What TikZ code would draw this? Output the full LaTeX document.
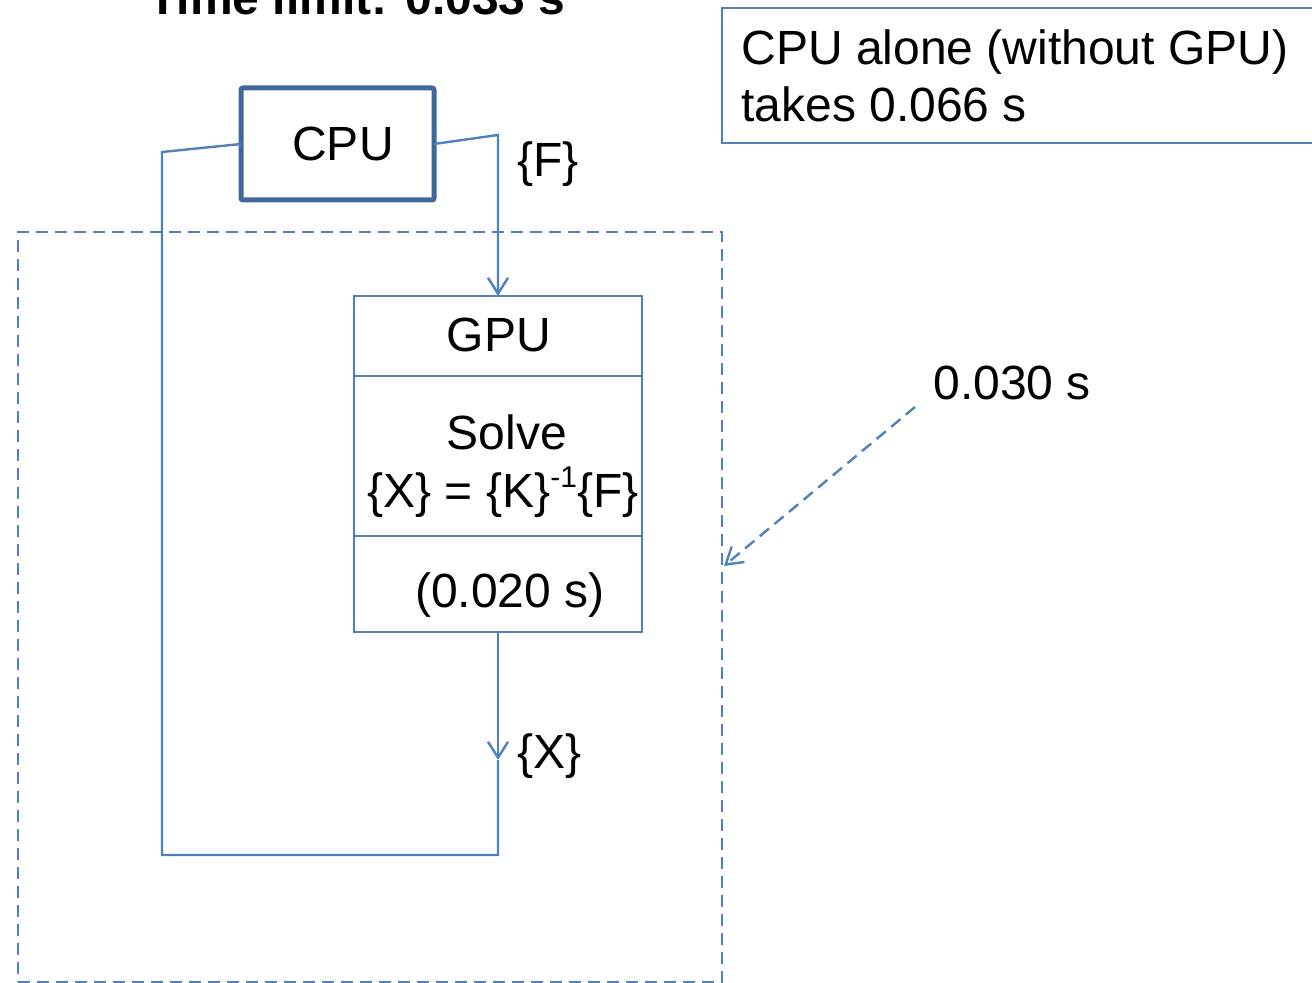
\documentclass[tikz,border=0pt]{standalone}
\usepackage{fontspec}
\setmainfont{Liberation Sans}
\usetikzlibrary{arrows.meta}
\definecolor{officeblue}{HTML}{4F81BD}
\definecolor{darkblue}{HTML}{41689B}
\tikzset{
  lbl/.style={font=\fontsize{24}{28.5}\selectfont, inner sep=0pt, text=black},
  thinbox/.style={draw=officeblue, line width=1.2pt, inner sep=0pt, outer sep=0pt},
  cpubox/.style={draw=darkblue, line width=2.5pt, rounded corners=1pt, inner sep=0pt, outer sep=0pt},
  conn/.style={draw=officeblue, line width=1.2pt},
  tip/.style={-{Straight Barb[length=8pt,width=10pt,line width=1.2pt]}},
  dashline/.style={draw=officeblue, line width=1.2pt, dash pattern=on 6pt off 3.5pt}
}
\begin{document}
\begin{tikzpicture}[x=0.5pt,y=-0.5pt]
\useasboundingbox (0,0) rectangle (1312,983);
\clip (0,0) rectangle (1312,983);

% title
\node[lbl, font=\fontsize{24}{28.5}\selectfont\bfseries, anchor=base] (title) at (357,15) {Time limit: 0.033 s};

% dashed region
\node[dashline, draw, anchor=north west, minimum width=352pt, minimum height=375pt, inner sep=0pt, outer sep=0pt] (region) at (18,232) {};

% CPU box
\node[cpubox, anchor=north west, minimum width=96.5pt, minimum height=56pt] (cpu) at (241,88) {};
\node[lbl, anchor=base] (cputxt) at (343,161) {CPU};

% GPU boxes
\node[thinbox, anchor=north west, minimum width=144pt, minimum height=40pt] (gpu) at (354,296) {};
\node[thinbox, anchor=north west, minimum width=144pt, minimum height=80pt] (solve) at (354,376) {};
\node[thinbox, anchor=north west, minimum width=144pt, minimum height=48pt] (time) at (354,536) {};
\node[lbl, anchor=base] (gputxt) at (499,352) {GPU};
\node[lbl, anchor=base] (solvetxt) at (507,450) {Solve};
\node[lbl, anchor=base] (eqtxt) at (503,508) {\{X\} = \{K\}\raisebox{0.42em}{\fontsize{15}{15}\selectfont -1}\{F\}};
\node[lbl, anchor=base] (timetxt) at (510,608) {(0.020 s)};

% labels
\node[lbl, anchor=base west] (flbl) at (517,177) {\{F\}};
\node[lbl, anchor=base west] (xlbl) at (517,768) {\{X\}};
\node[lbl, anchor=base west] (t030) at (933,400) {0.030 s};

% info box
\node[thinbox, anchor=north west, minimum width=300pt, minimum height=67.5pt] (info) at (722,8) {};
\node[lbl, anchor=base west] (info1) at (741,65) {CPU alone (without GPU)};
\node[lbl, anchor=base west] (info2) at (741,122) {takes 0.066 s};

% connectors
\coordinate (fbend) at (498,135);
\coordinate (xarr) at (498,760);
\coordinate (loopr) at (498,855);
\coordinate (loopl) at (162,855);
\coordinate (loopt) at (162,152);
\draw[conn, tip] (cpu.east) -- (fbend) -- (gpu.north);
\draw[conn, tip] (time.south) -- (xarr);
\draw[conn] (xarr) -- (loopr) -- (loopl) -- (loopt) -- (cpu.west);

\coordinate (dstart) at (915,407);
\coordinate (dend) at (724,566);
\draw[dashline, tip] (dstart) -- (dend);
\end{tikzpicture}
\end{document}
